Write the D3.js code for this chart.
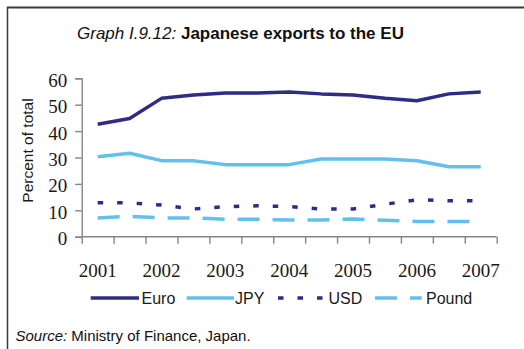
<!DOCTYPE html>
<html>
<head>
<meta charset="utf-8">
<script src="https://cdn.jsdelivr.net/npm/d3@7"></script>
<style>
  html, body { margin: 0; padding: 0; background: #fff; }
  svg { display: block; }
</style>
</head>
<body>
<svg id="chart" width="524" height="349"></svg>
<script>
// Half-yearly observations, 2001 .. 2007
const periods = ["2001","2001H2","2002","2002H2","2003","2003H2","2004","2004H2","2005","2005H2","2006","2006H2","2007"];
const yearLabels = ["2001","2002","2003","2004","2005","2006","2007"];
const euro  = [42.6, 44.8, 52.4, 53.7, 54.4, 54.4, 54.8, 54.1, 53.7, 52.4, 51.5, 54.1, 54.8];
const jpy   = [30.3, 31.6, 28.8, 28.8, 27.3, 27.3, 27.3, 29.4, 29.4, 29.4, 28.8, 26.5, 26.5];
const usd   = [12.9, 12.8, 12.0, 10.5, 11.4, 11.7, 11.4, 10.5, 10.5, 12.3, 14.0, 13.6, 13.6];
const pound = [7.1, 7.7, 7.1, 7.1, 6.6, 6.6, 6.3, 6.3, 6.7, 6.2, 5.8, 5.8, 5.8];
const yTicks = [0, 10, 20, 30, 40, 50, 60];

const seriesNames = ["Euro", "JPY", "USD", "Pound"];
const seriesValues = [euro, jpy, usd, pound];

(function () {
const styles = {
  Euro:  { color: "#2f2c85", dash: null },
  JPY:   { color: "#62c1ec", dash: null },
  USD:   { color: "#2f2c85", dash: "5.5,14" },
  Pound: { color: "#62c1ec", dash: "22,13" }
};

const svg = d3.select("#chart");
const sans = "'Liberation Sans', Arial, sans-serif";
const serif = "'Liberation Serif', 'Times New Roman', serif";

// frame
svg.append("line").attr("x1", 7).attr("x2", 524).attr("y1", 7.5).attr("y2", 7.5)
  .attr("stroke", "#3a3a3a").attr("stroke-width", 2);
svg.append("line").attr("x1", 7.5).attr("x2", 7.5).attr("y1", 7).attr("y2", 349)
  .attr("stroke", "#3a3a3a").attr("stroke-width", 1.5);

// title
const title = svg.append("text").attr("x", 77).attr("y", 39)
  .attr("font-family", sans).attr("font-size", 17).attr("fill", "#111");
title.append("tspan").attr("font-style", "italic").text("Graph I.9.12:");
title.append("tspan").attr("font-weight", "bold").text(" Japanese exports to the EU");

const pL = 81.7, pR = 496.7, pT = 78.3, pB = 236.7;

const x = d3.scaleBand().domain(periods).range([pL, pR]).paddingInner(0).paddingOuter(0);
const xEdges = d3.scaleLinear().domain([0, periods.length]).range([pL, pR]);
const y = d3.scaleLinear().domain([0, 60]).range([pB, pT]);

const axisColor = "#858585";

// y axis
const yAxis = svg.append("g").attr("transform", `translate(${pL},0)`)
  .call(d3.axisLeft(y).tickValues(yTicks).tickSize(6.5).tickPadding(8).tickFormat(d3.format("d")));
yAxis.select(".domain").attr("stroke", axisColor).attr("stroke-width", 1.4);
yAxis.selectAll(".tick line").attr("stroke", axisColor).attr("stroke-width", 1.4);
yAxis.selectAll(".tick text").attr("font-family", serif).attr("font-size", 19)
  .attr("fill", "#1a1a1a").attr("dy", "0.42em");

// x axis (tick marks at half-year boundaries)
const xAxis = svg.append("g").attr("transform", `translate(0,${pB})`)
  .call(d3.axisBottom(xEdges).tickValues(d3.range(periods.length + 1)).tickSize(7).tickFormat(""));
xAxis.select(".domain").attr("stroke", axisColor).attr("stroke-width", 1.4)
  .attr("d", `M${pL},0H${pR}`);
xAxis.selectAll(".tick line").attr("stroke", axisColor).attr("stroke-width", 1.4);

// year labels centred on the first half of each year
svg.append("g").selectAll("text").data(yearLabels).join("text")
  .attr("x", d => x(d) + x.bandwidth() / 2)
  .attr("y", 276.5)
  .attr("text-anchor", "middle")
  .attr("font-family", serif).attr("font-size", 19).attr("fill", "#1a1a1a")
  .text(d => d);

// y title
svg.append("text")
  .attr("transform", "translate(32.5,150.5) rotate(-90)")
  .attr("text-anchor", "middle")
  .attr("font-family", sans).attr("font-size", 15.5).attr("fill", "#1a1a1a")
  .text("Percent of total");

// lines
const line = d3.line()
  .x((d, i) => x(periods[i]) + x.bandwidth() / 2)
  .y(d => y(d));

seriesNames.forEach((name, k) => {
  svg.append("path")
    .datum(seriesValues[k])
    .attr("fill", "none")
    .attr("stroke", styles[name].color)
    .attr("stroke-width", 3.5)
    .attr("stroke-linejoin", "round")
    .attr("stroke-dasharray", styles[name].dash)
    .attr("d", line);
});

// legend
const legendItems = [
  { name: "Euro",  x1: 90.7,  x2: 139,   tx: 141.5 },
  { name: "JPY",   x1: 186.7, x2: 234,   tx: 235 },
  { name: "USD",   x1: 278,   x2: 323,   tx: 328.5 },
  { name: "Pound", x1: 375,   x2: 421.7, tx: 426 }
];
const lg = svg.append("g");
legendItems.forEach(it => {
  lg.append("line").attr("x1", it.x1).attr("x2", it.x2).attr("y1", 298).attr("y2", 298)
    .attr("stroke", styles[it.name].color).attr("stroke-width", 3.5)
    .attr("stroke-dasharray", styles[it.name].dash);
  lg.append("text").attr("x", it.tx).attr("y", 303.8)
    .attr("font-family", sans).attr("font-size", 16).attr("fill", "#1a1a1a")
    .text(it.name);
});

// source
const src = svg.append("text").attr("x", 15.5).attr("y", 341)
  .attr("font-family", sans).attr("font-size", 15).attr("fill", "#111");
src.append("tspan").attr("font-style", "italic").text("Source:");
src.append("tspan").text(" Ministry of Finance, Japan.");
})();
</script>
</body>
</html>
